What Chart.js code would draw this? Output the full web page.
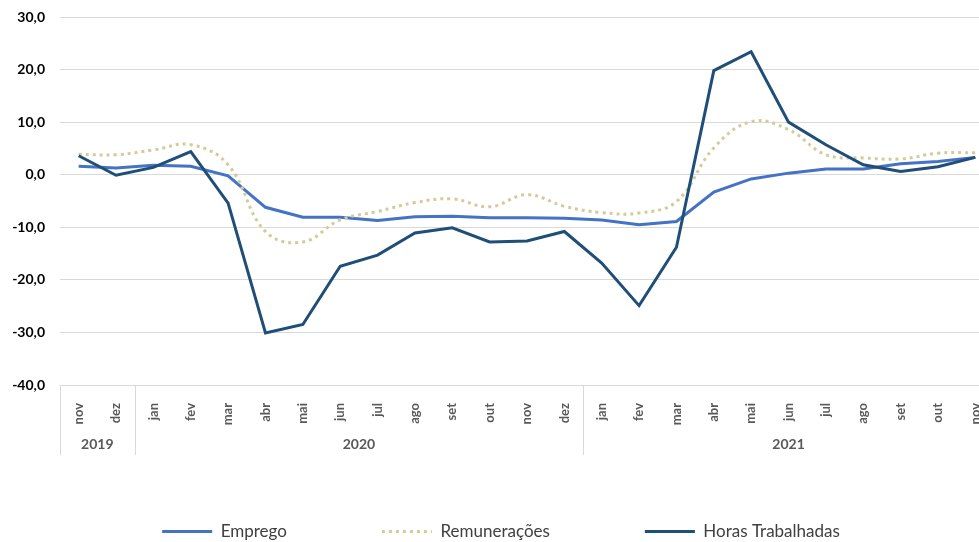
<!DOCTYPE html>
<html>
<head>
<meta charset="utf-8">
<script src="https://cdn.jsdelivr.net/npm/chart.js@4"></script>
<style>
  html, body { margin: 0; padding: 0; background: #fff; overflow: hidden; }
  #chart { display: block; }
</style>
</head>
<body>
<canvas id="chart" width="994" height="542"></canvas>
<script>
// categories
var months = ['nov', 'dez',
    'jan', 'fev', 'mar', 'abr', 'mai', 'jun', 'jul', 'ago', 'set', 'out', 'nov', 'dez',
    'jan', 'fev', 'mar', 'abr', 'mai', 'jun', 'jul', 'ago', 'set', 'out', 'nov'];
var yearLabels = ['2019', '2020', '2021'];
var yearCounts = [2, 12, 11];

// series
var emprego = [1.6, 1.3, 1.8, 1.6, -0.2, -6.2, -8.1, -8.1, -8.7, -8.0, -7.9, -8.2, -8.2, -8.3,
    -8.6, -9.5, -8.9, -3.3, -0.8, 0.3, 1.1, 1.1, 2.1, 2.5, 3.3];
var remuneracoes = [3.9, 3.8, 4.7, 5.7, 1.9, -10.8, -12.8, -8.6, -7.0, -5.3, -4.6, -6.1, -3.8, -6.0,
    -7.2, -7.3, -5.1, 5.1, 10.1, 8.6, 3.8, 3.2, 3.0, 4.1, 4.2];
var horas = [3.6, -0.1, 1.4, 4.4, -5.4, -30.1, -28.5, -17.4, -15.3, -11.1, -10.1, -12.8, -12.6, -10.8,
    -16.8, -24.9, -13.8, 19.8, 23.4, 10.0, 5.7, 1.9, 0.6, 1.5, 3.3];

var yMin = -40;
var yMax = 30;

var gridColor = '#d9d9d9';
var labelColor = '#595959';

/* second level of the category axis: years + separators */
var yearAxisPlugin = {
    id: 'yearAxis',
    afterDraw: function (chart) {
        var x = chart.scales.x;
        var ctx = chart.ctx;
        var step = x.getPixelForValue(1) - x.getPixelForValue(0);
        var start = 0;
        ctx.save();
        ctx.strokeStyle = gridColor;
        ctx.lineWidth = 1;
        ctx.fillStyle = labelColor;
        ctx.font = 'bold 14px Lato';
        ctx.textAlign = 'center';
        ctx.textBaseline = 'middle';
        for (var i = 0; i < yearLabels.length; i++) {
            var left = x.getPixelForValue(start) - step / 2;
            var right = x.getPixelForValue(start + yearCounts[i] - 1) + step / 2;
            var lx = Math.round(left) + 0.5;
            ctx.beginPath();
            ctx.moveTo(lx, x.top);
            ctx.lineTo(lx, x.top + 70);
            ctx.stroke();
            ctx.fillText(yearLabels[i], (left + right) / 2, x.top + 59);
            start += yearCounts[i];
        }
        ctx.restore();
    }
};

/* legend items as line samples, keeping the dash of each series */
function legendLabels(chart) {
    var items = Chart.defaults.plugins.legend.labels.generateLabels(chart);
    items.forEach(function (item) {
        var ds = chart.data.datasets[item.datasetIndex];
        item.strokeStyle = ds.borderColor;
        item.lineWidth = ds.borderWidth;
        item.lineDash = ds.borderDash || [];
    });
    return items;
}

var ctx = document.getElementById('chart');
var lineChart = new Chart(ctx, {
    type: 'line',
    data: {
        labels: months,
        datasets: [{
            label: 'Emprego',
            data: emprego,
            borderColor: '#4472C4',
            backgroundColor: '#4472C4',
            borderWidth: 3,
            pointRadius: 0,
            tension: 0,
            order: 3
        }, {
            label: 'Remunerações',
            data: remuneracoes,
            borderColor: '#d3cc98',
            backgroundColor: '#d3cc98',
            borderWidth: 3,
            borderDash: [3, 4],
            pointRadius: 0,
            tension: 0.4,
            order: 2
        }, {
            label: 'Horas Trabalhadas',
            data: horas,
            borderColor: '#1F4E79',
            backgroundColor: '#1F4E79',
            borderWidth: 3,
            pointRadius: 0,
            tension: 0,
            order: 1
        }]
    },
    options: {
        responsive: false,
        animation: false,
        layout: {
            padding: { top: 17, left: 8, right: 0, bottom: 0 }
        },
        plugins: {
            tooltip: { enabled: false },
            legend: {
                position: 'bottom',
                maxHeight: 114,
                labels: {
                    usePointStyle: true,
                    pointStyle: 'line',
                    pointStyleWidth: 50,
                    padding: 95,
                    color: '#404040',
                    font: { family: 'Lato', size: 17 },
                    generateLabels: legendLabels,
                    sort: function (a, b) { return a.datasetIndex - b.datasetIndex; }
                }
            }
        },
        scales: {
            x: {
                offset: true,
                grid: { display: false },
                border: { display: false },
                afterFit: function (scale) {
                    scale.height = 43;
                    scale.paddingLeft = 0;
                    scale.paddingRight = 0;
                },
                ticks: {
                    autoSkip: false,
                    minRotation: 90,
                    maxRotation: 90,
                    padding: 10,
                    color: labelColor,
                    font: { family: 'Lato', size: 13, weight: 'bold' }
                }
            },
            y: {
                min: yMin,
                max: yMax,
                afterFit: function (scale) {
                    scale.width = 52;
                    scale.paddingTop = 0;
                    scale.paddingBottom = 0;
                },
                grid: { color: gridColor, drawTicks: false },
                border: { display: false },
                ticks: {
                    stepSize: 10,
                    padding: 15,
                    color: '#000000',
                    font: { family: 'Lato', size: 14, weight: 'bold' },
                    callback: function (value) {
                        return value.toFixed(1).replace('.', ',');
                    }
                }
            }
        }
    },
    plugins: [yearAxisPlugin]
});
</script>
</body>
</html>
